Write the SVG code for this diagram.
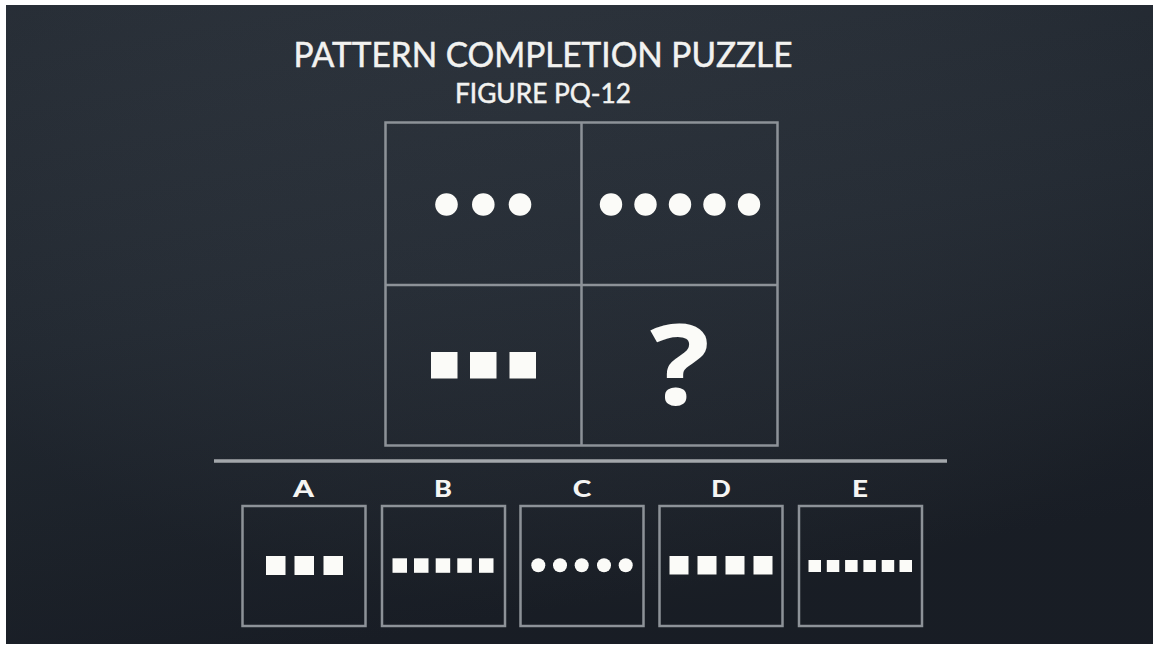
<svg xmlns="http://www.w3.org/2000/svg" width="1153" height="647" viewBox="0 0 1153 647">
  <defs>
    <linearGradient id="bg" x1="0" y1="0" x2="0.3" y2="1">
      <stop offset="0" stop-color="#2a313a"/>
      <stop offset="0.5" stop-color="#232a33"/>
      <stop offset="1" stop-color="#1a1f27"/>
    </linearGradient>
    <radialGradient id="glow" cx="0.5" cy="0.35" r="0.6">
      <stop offset="0" stop-color="#ffffff" stop-opacity="0.02"/>
      <stop offset="1" stop-color="#000000" stop-opacity="0.06"/>
    </radialGradient>
  </defs>
  <style>
    .frame { fill: none; stroke: #8d9298; stroke-width: 2.5; }
    .box { fill: none; stroke: #8d9298; stroke-width: 2.5; }
    .dot { fill: #fbfbf8; }
    .title { font-family: "Lato", "Noto Sans", "Liberation Sans", sans-serif; fill: #f2f2f0; stroke: #f2f2f0; stroke-width: 0.5; text-anchor: middle; }
    .label { font-family: "Lato", "Liberation Sans", sans-serif; font-weight: 900; font-size: 23px; fill: #f5f5f3; text-anchor: middle; }
    .sep { stroke: #a3a7ab; stroke-width: 3.5; }
  </style>
  <rect x="0" y="0" width="1153" height="647" fill="#ffffff"/>
  <rect x="6" y="5" width="1147" height="639" fill="url(#bg)"/>
  <rect x="6" y="5" width="1147" height="639" fill="url(#glow)"/>

  <g id="title">
    <text class="title" x="543" y="67" font-size="34" textLength="499" lengthAdjust="spacingAndGlyphs">PATTERN COMPLETION PUZZLE</text>
    <text class="title" x="543" y="103" font-size="27" textLength="176" lengthAdjust="spacingAndGlyphs">FIGURE PQ-12</text>
  </g>

  <g id="grid">
    <rect class="frame" x="385.5" y="122.5" width="392" height="323"/>
    <line class="frame" x1="581.5" y1="122.5" x2="581.5" y2="445.5"/>
    <line class="frame" x1="385.5" y1="285" x2="777.5" y2="285"/>
  </g>

  <g id="cell-top-left">
    <circle class="dot" cx="446.5" cy="204.5" r="11.3"/>
    <circle class="dot" cx="483.3" cy="204.5" r="11.3"/>
    <circle class="dot" cx="520" cy="204.5" r="11.3"/>
  </g>
  <g id="cell-top-right">
    <circle class="dot" cx="611" cy="204.5" r="11.2"/>
    <circle class="dot" cx="645.5" cy="204.5" r="11.2"/>
    <circle class="dot" cx="680" cy="204.5" r="11.2"/>
    <circle class="dot" cx="714.5" cy="204.5" r="11.2"/>
    <circle class="dot" cx="749" cy="204.5" r="11.2"/>
  </g>
  <g id="cell-bottom-left">
    <rect class="dot" x="431" y="352" width="26.5" height="26.5"/>
    <rect class="dot" x="470" y="352" width="26.5" height="26.5"/>
    <rect class="dot" x="509.5" y="352" width="26.5" height="26.5"/>
  </g>
  <g id="cell-bottom-right">
    <text transform="translate(680 405) scale(1.12 1)" x="0" y="0" font-family="'Open Sans', 'Noto Sans', 'Liberation Sans', sans-serif" font-weight="700" font-size="112" fill="#fbfbf8" text-anchor="middle">?</text>
  </g>

  <g id="connectors">
    <line class="sep" x1="214" y1="461" x2="947" y2="461"/>
  </g>

  <g id="option-A">
    <text class="label" x="303.5" y="497" textLength="21" lengthAdjust="spacingAndGlyphs">A</text>
    <rect class="box" x="242.5" y="506" width="123" height="120"/>
    <rect class="dot" x="266" y="556" width="19.5" height="19"/>
    <rect class="dot" x="294.5" y="556" width="19.5" height="19"/>
    <rect class="dot" x="323.5" y="556" width="19.5" height="19"/>
  </g>
  <g id="option-B">
    <text class="label" x="443" y="497" textLength="18" lengthAdjust="spacingAndGlyphs">B</text>
    <rect class="box" x="382" y="506" width="123" height="120"/>
    <rect class="dot" x="392.5" y="558.3" width="14.5" height="14.5"/>
    <rect class="dot" x="414" y="558.3" width="14.5" height="14.5"/>
    <rect class="dot" x="435.7" y="558.3" width="14.5" height="14.5"/>
    <rect class="dot" x="457.3" y="558.3" width="14.5" height="14.5"/>
    <rect class="dot" x="479" y="558.3" width="14.5" height="14.5"/>
  </g>
  <g id="option-C">
    <text class="label" x="582" y="497" textLength="18.5" lengthAdjust="spacingAndGlyphs">C</text>
    <rect class="box" x="520.5" y="506" width="123" height="120"/>
    <circle class="dot" cx="538.3" cy="565.3" r="7"/>
    <circle class="dot" cx="560" cy="565.3" r="7"/>
    <circle class="dot" cx="581.7" cy="565.3" r="7"/>
    <circle class="dot" cx="604" cy="565.3" r="7"/>
    <circle class="dot" cx="625.7" cy="565.3" r="7"/>
  </g>
  <g id="option-D">
    <text class="label" x="721" y="497" textLength="19.5" lengthAdjust="spacingAndGlyphs">D</text>
    <rect class="box" x="659.5" y="506" width="123" height="120"/>
    <rect class="dot" x="669.5" y="556" width="19" height="18.5"/>
    <rect class="dot" x="697.5" y="556" width="19" height="18.5"/>
    <rect class="dot" x="725.5" y="556" width="19" height="18.5"/>
    <rect class="dot" x="753.5" y="556" width="19" height="18.5"/>
  </g>
  <g id="option-E">
    <text class="label" x="860" y="497" textLength="16" lengthAdjust="spacingAndGlyphs">E</text>
    <rect class="box" x="799" y="506" width="123" height="120"/>
    <rect class="dot" x="808.5" y="560" width="12.5" height="12"/>
    <rect class="dot" x="826.8" y="560" width="12.5" height="12"/>
    <rect class="dot" x="845.1" y="560" width="12.5" height="12"/>
    <rect class="dot" x="863.4" y="560" width="12.5" height="12"/>
    <rect class="dot" x="881.7" y="560" width="12.5" height="12"/>
    <rect class="dot" x="899.5" y="560" width="12.5" height="12"/>
  </g>
</svg>
